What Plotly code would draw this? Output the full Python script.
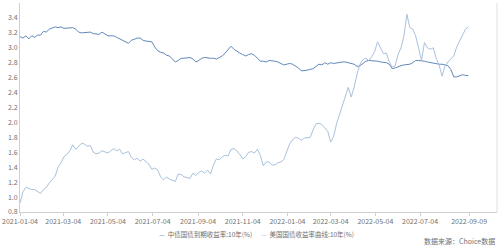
import pandas as pd
import plotly.graph_objects as go

# sampling dates: every 4 calendar days from 2021-01-04
dates = pd.date_range("2021-01-04", periods=154, freq="4D")

cn_10y = [
    3.15, 3.13, 3.16, 3.12, 3.16, 3.14, 3.17, 3.17, 3.22, 3.21,
    3.25, 3.27, 3.28, 3.27, 3.28, 3.26, 3.26, 3.26, 3.27, 3.25,
    3.21, 3.20, 3.20, 3.20, 3.21, 3.19, 3.18, 3.18, 3.21, 3.18,
    3.16, 3.16, 3.16, 3.14, 3.12, 3.09, 3.07, 3.06, 3.10, 3.12,
    3.13, 3.13, 3.10, 3.09, 3.09, 3.08, 3.01, 2.96, 2.94, 2.93,
    2.90, 2.89, 2.85, 2.81, 2.83, 2.86, 2.86, 2.86, 2.87, 2.85,
    2.81, 2.83, 2.86, 2.87, 2.86, 2.86, 2.86, 2.85, 2.87, 2.89,
    2.93, 2.97, 3.02, 2.98, 2.95, 2.93, 2.91, 2.89, 2.91, 2.92,
    2.90, 2.86, 2.82, 2.82, 2.81, 2.83, 2.83, 2.82, 2.81, 2.79,
    2.77, 2.78, 2.79, 2.78, 2.76, 2.73, 2.69, 2.69, 2.70, 2.71,
    2.72, 2.75, 2.78, 2.77, 2.80, 2.78, 2.80, 2.79, 2.80, 2.80,
    2.81, 2.81, 2.80, 2.79, 2.78, 2.75, 2.76, 2.79, 2.82, 2.83,
    2.83, 2.83, 2.82, 2.81, 2.81, 2.80, 2.78, 2.72, 2.73, 2.75,
    2.76, 2.77, 2.77, 2.78, 2.80, 2.83, 2.83, 2.83, 2.82, 2.81,
    2.80, 2.79, 2.79, 2.78, 2.78, 2.77, 2.76, 2.71, 2.61, 2.61,
    2.63, 2.64, 2.63, 2.63,
]

us_10y = [
    0.92, 1.07, 1.13, 1.11, 1.10, 1.10, 1.08, 1.05, 1.10, 1.13,
    1.19, 1.23, 1.28, 1.40, 1.46, 1.54, 1.57, 1.62, 1.70, 1.64,
    1.68, 1.72, 1.71, 1.68, 1.69, 1.60, 1.58, 1.59, 1.62, 1.61,
    1.59, 1.62, 1.65, 1.62, 1.64, 1.58, 1.60, 1.61, 1.53, 1.50,
    1.52, 1.48, 1.51, 1.47, 1.44, 1.37, 1.39, 1.36, 1.27, 1.23,
    1.27, 1.24, 1.22, 1.21, 1.31, 1.30, 1.27, 1.26, 1.25, 1.32,
    1.29, 1.33, 1.35, 1.32, 1.36, 1.31, 1.43, 1.51, 1.50, 1.54,
    1.56, 1.55, 1.64, 1.65, 1.62, 1.57, 1.51, 1.54, 1.60, 1.61,
    1.59, 1.64, 1.56, 1.42, 1.47, 1.47, 1.43, 1.43, 1.46, 1.47,
    1.50, 1.61, 1.71, 1.77, 1.80, 1.79, 1.76, 1.79, 1.80, 1.80,
    1.90, 1.98, 1.99, 1.97, 1.93, 1.88, 1.74, 1.81, 1.98, 2.11,
    2.21, 2.37, 2.47, 2.34, 2.47, 2.65, 2.78, 2.84, 2.86, 2.83,
    2.88, 2.95, 3.08, 3.00, 2.92, 2.93, 2.81, 2.74, 2.76, 2.91,
    3.00, 3.16, 3.45, 3.27, 3.25, 3.16, 3.00, 2.83, 3.07, 3.00,
    2.98, 3.00, 2.86, 2.77, 2.62, 2.75, 2.81, 2.85, 2.89, 3.01,
    3.09, 3.16, 3.25, 3.28,
]

tick_dates = ["2021-01-04", "2021-03-04", "2021-05-04", "2021-07-04",
              "2021-09-04", "2021-11-04", "2022-01-04", "2022-03-04",
              "2022-05-04", "2022-07-04", "2022-09-09"]
y_ticks = [0.8, 1.0, 1.2, 1.4, 1.6, 1.8, 2.0, 2.2, 2.4, 2.6, 2.8, 3.0, 3.2, 3.4, 3.6]

name_cn = "中债国债到期收益率:10年(%)"
name_us = "美国国债收益率曲线:10年(%)"
source = "数据来源：Choice数据"

FONT = "Noto Sans CJK SC"
C_CN = "#6187bb"
C_US = "#a9c1dc"
TXT = "#707070"

fig = go.Figure()
fig.add_trace(go.Scatter(x=dates, y=cn_10y, mode="lines", name=name_cn,
                         line=dict(color=C_CN, width=1.0)))
fig.add_trace(go.Scatter(x=dates, y=us_10y, mode="lines", name=name_us,
                         line=dict(color=C_US, width=1.0)))

legend_text = (f"<span style='color:{C_CN}'>—</span>  {name_cn}"
               f"      <span style='color:{C_US}'>—</span>  {name_us}")

fig.update_layout(
    width=500, height=247,
    margin=dict(l=20, r=3, t=3, b=35),
    paper_bgcolor="white", plot_bgcolor="white",
    font=dict(family=FONT, size=7, color=TXT),
    showlegend=False,
    xaxis=dict(type="date", range=["2021-01-04", "2022-10-17"],
               tickvals=tick_dates, ticktext=tick_dates,
               showgrid=False, zeroline=False, showline=True,
               linecolor="#d0d0d0", linewidth=1,
               ticks="outside", ticklen=3, tickcolor="#d0d0d0",
               tickfont=dict(size=7, color=TXT), tickangle=0),
    yaxis=dict(range=[0.8, 3.6], tickvals=y_ticks,
               ticktext=[f"{v:.1f}" for v in y_ticks],
               showgrid=False, zeroline=False, showline=True,
               linecolor="#d0d0d0", linewidth=1,
               ticks="", tickfont=dict(size=7, color=TXT)),
    shapes=[dict(type="line", xref="paper", yref="paper", x0=1, x1=1, y0=0, y1=1,
                 line=dict(color="#e0e0e0", width=1))],
    annotations=[
        dict(text=legend_text, xref="paper", yref="paper", x=0.495, y=-0.07,
             xanchor="center", yanchor="top", showarrow=False,
             font=dict(size=6.5, color=TXT)),
        dict(text=source, xref="paper", yref="paper", x=1.0, y=-0.107,
             xanchor="right", yanchor="top", showarrow=False,
             font=dict(size=7, color=TXT)),
    ],
)

fig.write_html("out.html")
